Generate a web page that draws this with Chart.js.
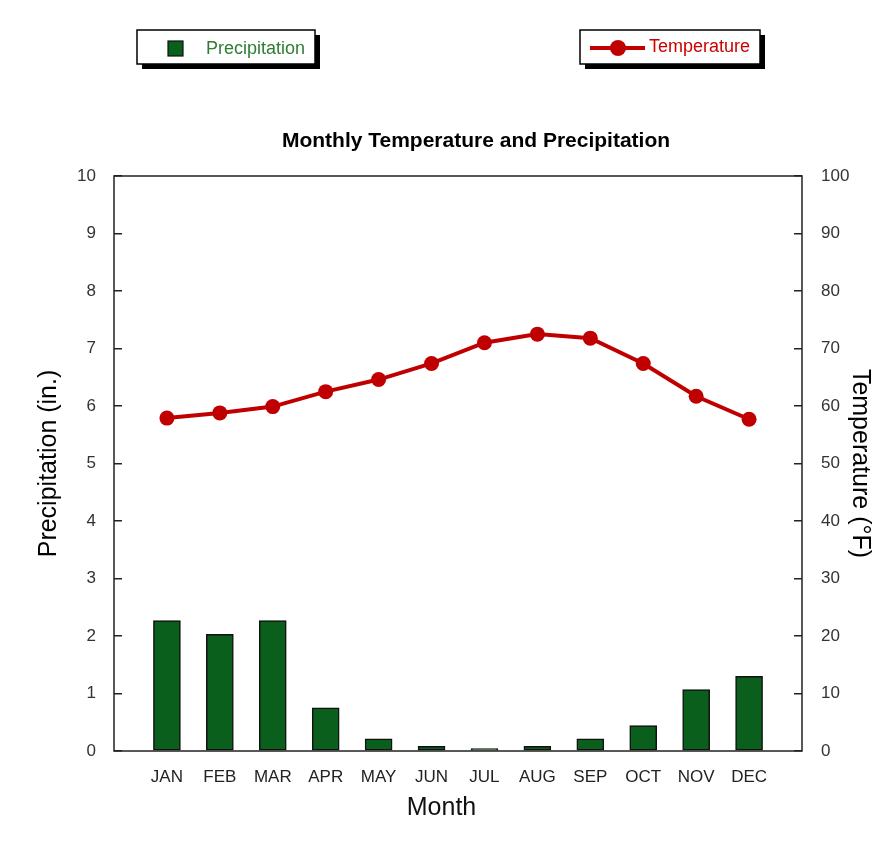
<!DOCTYPE html>
<html>
<head>
<meta charset="utf-8">
<script src="https://cdn.jsdelivr.net/npm/chart.js@4"></script>
<style>
html,body{margin:0;padding:0;background:#fff;}
#wrap{width:886px;height:848px;position:relative;}
</style>
</head>
<body>
<div id="wrap"><canvas id="c" width="886" height="848"></canvas></div>
<script>
// ---- data ----
const months = ['JAN','FEB','MAR','APR','MAY','JUN','JUL','AUG','SEP','OCT','NOV','DEC'];
const precipitation = [2.27, 2.03, 2.27, 0.75, 0.21, 0.08, 0.04, 0.08, 0.21, 0.44, 1.07, 1.30];
const temperature = [57.9, 58.8, 59.9, 62.5, 64.6, 67.4, 71.0, 72.5, 71.8, 67.4, 61.7, 57.7];
const precipTicks = [0, 10, 1];   // min, max, step
const tempTicks = [0, 100, 10];   // min, max, step

const FONT = "'Liberation Sans', Arial, Helvetica, sans-serif";
const GREEN = '#0a5f1c';
const RED = '#c00000';

// pad with blank categories at both ends so months sit one full step inside the frame
const labels = [''].concat(months, ['']);
const precipData = [null].concat(precipitation, [null]);
const tempData = [null].concat(temperature, [null]);

const decor = {
  id: 'decor',
  afterDraw(chart) {
    const ctx = chart.ctx;
    const a = chart.chartArea;
    ctx.save();
    // frame
    ctx.strokeStyle = '#222';
    ctx.lineWidth = 1.5;
    ctx.strokeRect(a.left, a.top, a.right - a.left, a.bottom - a.top);

    // title
    ctx.fillStyle = '#000';
    ctx.font = "bold 21px " + FONT;
    ctx.textAlign = 'center';
    ctx.textBaseline = 'alphabetic';
    ctx.fillText('Monthly Temperature and Precipitation', 476, 147);

    // x axis title
    ctx.font = "25px " + FONT;
    ctx.fillStyle = '#111';
    ctx.fillText('Month', 441.5, 815);

    // legend boxes
    function box(x, y, w, h) {
      ctx.fillStyle = '#000';
      ctx.fillRect(x + 5, y + 5, w, h);
      ctx.fillStyle = '#fff';
      ctx.fillRect(x, y, w, h);
      ctx.strokeStyle = '#000';
      ctx.lineWidth = 1.5;
      ctx.strokeRect(x, y, w, h);
    }
    box(137, 30, 178, 34);
    ctx.fillStyle = GREEN;
    ctx.fillRect(168, 41, 15, 15);
    ctx.strokeStyle = '#111';
    ctx.lineWidth = 1.2;
    ctx.strokeRect(168, 41, 15, 15);
    ctx.font = "18px " + FONT;
    ctx.textAlign = 'left';
    ctx.fillStyle = '#2e7d32';
    ctx.fillText('Precipitation', 206, 54);

    box(580, 30, 180, 34);
    ctx.strokeStyle = RED;
    ctx.lineWidth = 4;
    ctx.beginPath();
    ctx.moveTo(590, 48);
    ctx.lineTo(645, 48);
    ctx.stroke();
    ctx.fillStyle = RED;
    ctx.beginPath();
    ctx.arc(618, 48, 8, 0, Math.PI * 2);
    ctx.fill();
    ctx.fillStyle = '#cc0000';
    ctx.fillText('Temperature', 649, 52);
    ctx.restore();
  }
};

new Chart(document.getElementById('c'), {
  data: {
    labels: labels,
    datasets: [
      {
        type: 'line',
        label: 'Temperature',
        data: tempData,
        yAxisID: 'y1',
        borderColor: RED,
        backgroundColor: RED,
        borderWidth: 4,
        pointRadius: 7.5,
        pointBackgroundColor: RED,
        pointBorderWidth: 0,
        tension: 0,
        order: 0
      },
      {
        type: 'bar',
        label: 'Precipitation',
        data: precipData,
        yAxisID: 'y',
        backgroundColor: GREEN,
        borderColor: '#111',
        borderWidth: 1.5,
        borderSkipped: false,
        barThickness: 27,
        order: 1
      }
    ]
  },
  options: {
    responsive: false,
    animation: false,
    layout: { padding: { top: 176, left: 0, right: 0, bottom: 0 } },
    plugins: { legend: { display: false }, title: { display: false }, tooltip: { enabled: false } },
    scales: {
      x: {
        type: 'category',
        offset: false,
        grid: { display: false },
        border: { display: false },
        ticks: { autoSkip: false, maxRotation: 0, padding: 8, color: '#222', font: { family: FONT, size: 17 } },
        afterFit(s) { s.height = 97; }
      },
      y: {
        position: 'left',
        min: precipTicks[0], max: precipTicks[1],
        ticks: { stepSize: precipTicks[2], padding: 26, color: '#333', font: { family: FONT, size: 17 } },
        grid: { drawOnChartArea: false, drawTicks: true, tickLength: -8, color: '#222', lineWidth: 1.5 },
        border: { display: false },
        title: { display: true, text: 'Precipitation (in.)', color: '#000', font: { family: FONT, size: 25 }, padding: { top: 34, bottom: 0 } },
        afterFit(s) { s.width = 114; }
      },
      y1: {
        position: 'right',
        min: tempTicks[0], max: tempTicks[1],
        ticks: { stepSize: tempTicks[2], padding: 27, color: '#333', font: { family: FONT, size: 17 } },
        grid: { drawOnChartArea: false, drawTicks: true, tickLength: -8, color: '#222', lineWidth: 1.5 },
        border: { display: false },
        title: { display: true, text: 'Temperature (°F)', color: '#000', font: { family: FONT, size: 25 }, padding: { top: 11, bottom: 0 } },
        afterFit(s) { s.width = 84; }
      }
    }
  },
  plugins: [decor]
});
</script>
</body>
</html>
